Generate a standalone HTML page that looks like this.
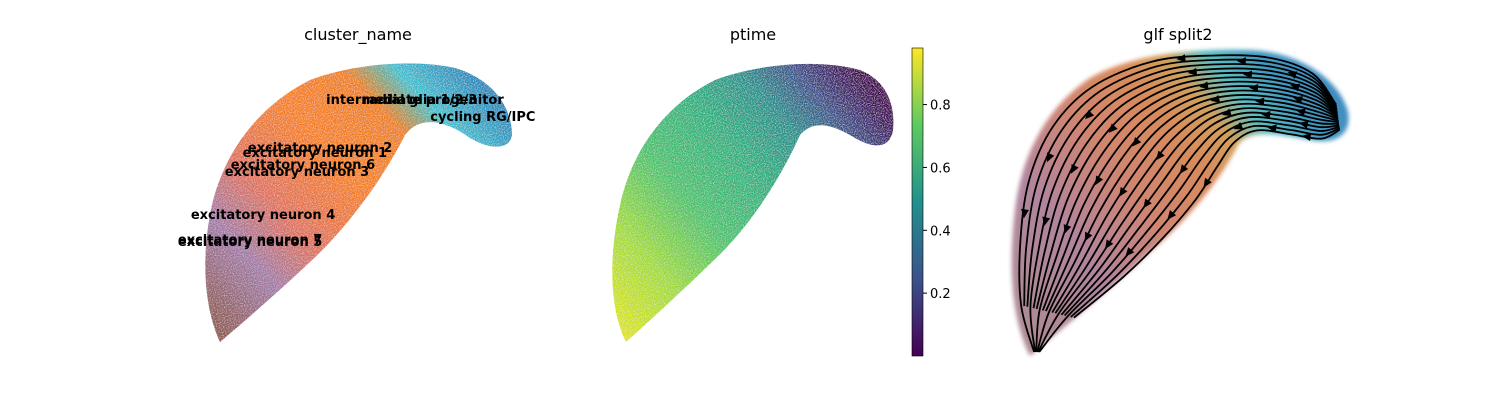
<!DOCTYPE html>
<html><head><meta charset="utf-8"><style>
body{margin:0;background:#fff}
svg text{font-family:"DejaVu Sans","Liberation Sans",sans-serif}
</style></head><body>
<svg id="fig" width="1500" height="400" viewBox="0 0 1500 400" xmlns="http://www.w3.org/2000/svg">
<defs>
 <filter id="grain" x="0" y="0" width="100%" height="100%">
  <feTurbulence type="fractalNoise" baseFrequency="0.9" numOctaves="2" seed="3" result="n"/>
  <feColorMatrix in="n" type="matrix" values="0 0 0 0 1  0 0 0 0 1  0 0 0 0 1  0 0 0 1.2 -0.55" result="w"/>
  <feComposite in="w" in2="SourceGraphic" operator="in" result="wm"/>
  <feMerge><feMergeNode in="SourceGraphic"/><feMergeNode in="wm"/></feMerge>
 </filter>
 <filter id="soft"><feGaussianBlur stdDeviation="2"/></filter>
 <linearGradient id="g1" x1="220" y1="340" x2="500" y2="80" gradientUnits="userSpaceOnUse">
  <stop offset="0" stop-color="#8c564b"/><stop offset="0.2" stop-color="#a27aa8"/>
  <stop offset="0.35" stop-color="#e0705a"/><stop offset="0.55" stop-color="#f57f1a"/>
  <stop offset="0.72" stop-color="#ec7f1a"/><stop offset="0.82" stop-color="#3fbfce"/>
  <stop offset="1" stop-color="#1f77b4"/>
 </linearGradient>
 <linearGradient id="g2" x1="625" y1="340" x2="890" y2="110" gradientUnits="userSpaceOnUse">
  <stop offset="0" stop-color="#dde318"/><stop offset="0.2" stop-color="#a2da37"/>
  <stop offset="0.4" stop-color="#4ac16d"/><stop offset="0.6" stop-color="#29af7f"/>
  <stop offset="0.75" stop-color="#21918c"/><stop offset="0.87" stop-color="#3b528b"/>
  <stop offset="1" stop-color="#440154"/>
 </linearGradient>
 <linearGradient id="g3" x1="1030" y1="350" x2="1345" y2="100" gradientUnits="userSpaceOnUse">
  <stop offset="0" stop-color="#a07880"/><stop offset="0.25" stop-color="#a4708e"/>
  <stop offset="0.45" stop-color="#c97058"/><stop offset="0.62" stop-color="#d2773f"/>
  <stop offset="0.72" stop-color="#c89040"/><stop offset="0.8" stop-color="#3fb4b8"/>
  <stop offset="0.9" stop-color="#2288b8"/><stop offset="1" stop-color="#1f77b4"/>
 </linearGradient>
 <linearGradient id="cb" x1="0" y1="1" x2="0" y2="0">
  <stop offset="0" stop-color="#440154"/><stop offset="0.25" stop-color="#3b528b"/>
  <stop offset="0.5" stop-color="#21918c"/><stop offset="0.75" stop-color="#5ec962"/>
  <stop offset="1" stop-color="#fde725"/>
 </linearGradient>
</defs>
<text x="358" y="40" font-size="16" text-anchor="middle">cluster_name</text>
<text x="753" y="40" font-size="16" text-anchor="middle">ptime</text>
<text x="1178" y="40" font-size="16" text-anchor="middle">glf split2</text>
<path filter="url(#grain)" fill="url(#g1)" d="M220,342 C205,310 200,260 212,205 C225,150 260,105 310,80 C350,65 410,58 455,68 C490,78 512,105 512,135 C510,150 490,150 470,138 C445,120 420,115 405,135 C385,175 350,225 310,262 C275,295 240,325 220,342Z"/>
<path filter="url(#grain)" fill="url(#g2)" d="M626,342 C610,310 608,260 620,205 C632,150 665,105 715,80 C755,65 815,58 860,70 C890,82 895,110 893,130 C890,150 872,148 855,138 C835,126 815,118 800,135 C782,175 752,225 712,262 C678,295 645,325 626,342Z"/>
<g id="p3">
<path filter="url(#soft)" fill="url(#g3)" opacity="0.85" d="M1030,356 C1012,320 1008,270 1015,210 C1022,150 1050,105 1090,78 C1130,55 1190,48 1250,50 C1300,52 1340,80 1348,112 C1352,135 1335,145 1310,140 C1280,135 1250,128 1238,145 C1220,180 1190,218 1150,252 C1110,290 1060,330 1030,356Z"/>
</g>
<rect x="912" y="48" width="11" height="308" fill="url(#cb)" stroke="#000" stroke-width="0.6"/>
<g id="cbticks"></g>
<g id="labels"></g>
</svg>
<script>
const labelNames=["intermediate progenitor","radial glia 1/2/3","cycling RG/IPC","excitatory neuron 2","excitatory neuron 1","excitatory neuron 6","excitatory neuron 3","excitatory neuron 4","excitatory neuron 7","excitatory neuron 5"];
const labelX=[2.37,2.51,4.31,-0.34,-0.49,-0.83,-1.0,-1.97,-2.34,-2.34];
const labelY=[6.32,6.32,5.77,4.77,4.61,4.23,4.0,2.61,1.81,1.74];
const cbTicks=[0.2,0.4,0.6,0.8];
const ptMin=0.0, ptMax=0.98;
const NS="http://www.w3.org/2000/svg";
function lx(v){return 332+v*35;}
function ly(v){return 300-v*31;}
function cy(v){return 356-(v-ptMin)/(ptMax-ptMin)*308;}
const lg=document.getElementById('labels');
labelNames.forEach(function(n,i){
 const t=document.createElementNS(NS,'text');
 
 
 t.setAttribute('x',lx(labelX[i]));t.setAttribute('y',ly(labelY[i]));t.setAttribute('text-anchor','middle');
 t.setAttribute('font-size','13');t.setAttribute('font-weight','bold');t.textContent=n;lg.appendChild(t);
});
const cg=document.getElementById('cbticks');
cbTicks.forEach(function(v){
 const l=document.createElementNS(NS,'line');
 
 
 l.setAttribute('x1',923);l.setAttribute('x2',927);l.setAttribute('y1',cy(v));l.setAttribute('y2',cy(v));l.setAttribute('stroke','#000');cg.appendChild(l);
 const t=document.createElementNS(NS,'text');
 
 
 t.setAttribute('x',930);t.setAttribute('y',cy(v)+5);t.setAttribute('font-size','13');t.textContent=v.toFixed(1);cg.appendChild(t);
});
const outerB=[[1034,352],[1020,305],[1018,245],[1026,180],[1050,125],[1090,85],[1150,60],[1210,54],[1268,56],[1312,72],[1336,104]];
const innerB=[[1040,352],[1075,318],[1125,278],[1165,240],[1198,202],[1220,168],[1236,144],[1258,132],[1292,136],[1322,140],[1340,130]];
const p3=document.getElementById('p3');
function smooth(pts){
 let d='M'+pts[0][0].toFixed(1)+','+pts[0][1].toFixed(1);
 for(let i=0;i<pts.length-1;i++){
  const p0=pts[Math.max(0,i-1)],p1=pts[i],p2=pts[i+1],p3b=pts[Math.min(pts.length-1,i+2)];
  const c1=[p1[0]+(p2[0]-p0[0])/6,p1[1]+(p2[1]-p0[1])/6];
  const c2=[p2[0]-(p3b[0]-p1[0])/6,p2[1]-(p3b[1]-p1[1])/6];
  d+=' C'+c1[0].toFixed(1)+','+c1[1].toFixed(1)+' '+c2[0].toFixed(1)+','+c2[1].toFixed(1)+' '+p2[0].toFixed(1)+','+p2[1].toFixed(1);
 }
 return d;
}
for(let k=0;k<=17;k++){
 const f=0.02+0.96*k/17;
 const pts=outerB.map(function(p,i){return [p[0]+(innerB[i][0]-p[0])*f,p[1]+(innerB[i][1]-p[1])*f];});
 const start=(k%3===0)?0:1;
 const pa=document.createElementNS(NS,'path');
 
 
 pa.setAttribute('d',smooth(pts.slice(start)));pa.setAttribute('fill','none');pa.setAttribute('stroke','#000');pa.setAttribute('stroke-width','1.8');
 p3.appendChild(pa);
 [3+(k%3),7+(k%3)].forEach(function(j){
  const a=pts[j],b=pts[j-1];
  const ang=Math.atan2(b[1]-a[1],b[0]-a[0])*180/Math.PI;
  const m=[(a[0]+b[0])/2,(a[1]+b[1])/2];
  const ar=document.createElementNS(NS,'path');
  
  
  ar.setAttribute('d','M5,0 L-4,-4 L-4,4Z');ar.setAttribute('transform','translate('+m[0]+','+m[1]+') rotate('+ang+')');
  p3.appendChild(ar);
 });
}
</script>
</body></html>
